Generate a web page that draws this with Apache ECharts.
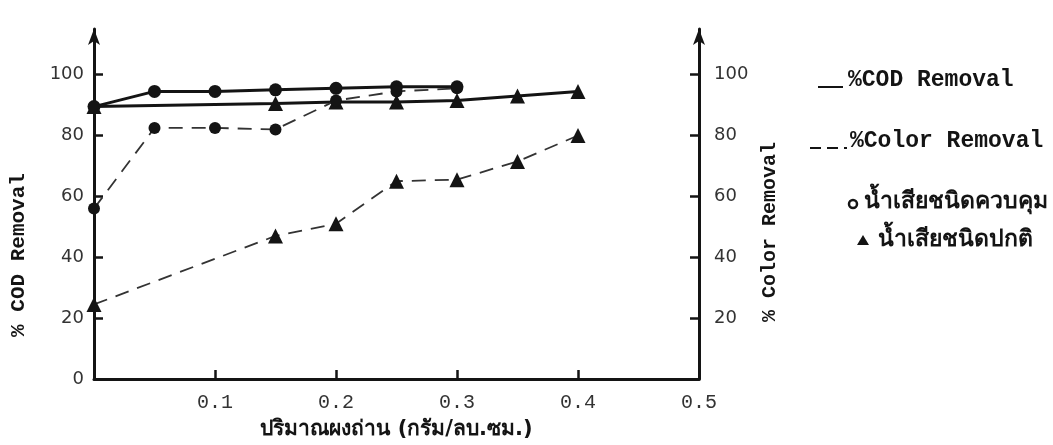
<!DOCTYPE html>
<html>
<head>
<meta charset="utf-8">
<script src="https://cdn.jsdelivr.net/npm/echarts@6/dist/echarts.min.js"></script>
<style>
  html, body { margin: 0; padding: 0; background: #fff; }
  #chart { width: 1053px; height: 445px; }
</style>
</head>
<body>
<div id="chart"></div>
<script>
// ปริมาณผงถ่าน (กรัม/ลบ.ซม.)
const xControl = [0, 0.05, 0.1, 0.15, 0.2, 0.25, 0.3];
const codControl = [89.5, 94.5, 94.5, 95, 95.5, 96, 96];
const colorControl = [56, 82.5, 82.5, 82, 91.5, 94.5, 95.5];

const xNormal = [0, 0.15, 0.2, 0.25, 0.3, 0.35, 0.4];
const codNormal = [89.5, 90.5, 91, 91, 91.5, 93, 94.5];
const colorNormal = [24.5, 47, 51, 65, 65.5, 71.5, 80];

const xTicks = [0.1, 0.2, 0.3, 0.4, 0.5];
const leftTicks = [0, 20, 40, 60, 80, 100];
const rightTicks = [20, 40, 60, 80, 100];

const ink = '#141414';
const mono = '"Liberation Mono", "DejaVu Sans Mono", monospace';

function pairs(xs, ys) {
  return xs.map((x, i) => [x, ys[i]]);
}

let myChart = echarts.init(document.getElementById('chart'));

const axisBase = {
  axisLine: { show: true, lineStyle: { color: ink, width: 3 } },
  axisTick: { show: true, inside: true, length: 9, lineStyle: { color: ink, width: 2.5 } },
  axisLabel: { color: '#333', fontSize: 18, fontFamily: '"DejaVu Sans", sans-serif' }
};

myChart.setOption({
  backgroundColor: '#fff',
  animation: false,
  grid: { left: 94, right: 354, top: 29, bottom: 62 },
  xAxis: {
    type: 'value',
    min: 0,
    max: 0.5,
    interval: 0.1,
    name: 'ปริมาณผงถ่าน (กรัม/ลบ.ซม.)',
    nameLocation: 'middle',
    nameGap: 40,
    nameTextStyle: { color: ink, fontSize: 21, fontWeight: 'bold', fontFamily: '"DejaVu Sans", sans-serif' },
    axisLine: axisBase.axisLine,
    axisTick: Object.assign({}, axisBase.axisTick, { customValues: [0.1, 0.2, 0.3, 0.4] }),
    splitLine: { show: false },
    axisLabel: Object.assign({}, axisBase.axisLabel, {
      customValues: xTicks,
      margin: 14,
      fontSize: 20,
      fontFamily: mono,
      formatter: v => v.toFixed(1)
    })
  },
  yAxis: [{
    type: 'value',
    min: 0,
    max: 115,
    position: 'left',
    axisLine: Object.assign({}, axisBase.axisLine, { symbol: ['none', 'arrow'], symbolSize: [9, 16] }),
    axisTick: Object.assign({}, axisBase.axisTick, { customValues: leftTicks }),
    splitLine: { show: false },
    axisLabel: Object.assign({}, axisBase.axisLabel, { customValues: leftTicks, margin: 10 })
  }, {
    type: 'value',
    min: 0,
    max: 115,
    position: 'right',
    axisLine: Object.assign({}, axisBase.axisLine, { symbol: ['none', 'arrow'], symbolSize: [9, 16] }),
    axisTick: Object.assign({}, axisBase.axisTick, { customValues: rightTicks }),
    splitLine: { show: false },
    axisLabel: Object.assign({}, axisBase.axisLabel, { customValues: rightTicks, margin: 15 })
  }],
  series: [{
    name: '%COD Removal - ควบคุม',
    type: 'line',
    data: pairs(xControl, codControl),
    symbol: 'circle',
    symbolSize: 13,
    itemStyle: { color: ink },
    lineStyle: { color: ink, width: 3 }
  }, {
    name: '%COD Removal - ปกติ',
    type: 'line',
    data: pairs(xNormal, codNormal),
    symbol: 'triangle',
    symbolSize: 15,
    itemStyle: { color: ink },
    lineStyle: { color: ink, width: 3 }
  }, {
    name: '%Color Removal - ควบคุม',
    type: 'line',
    data: pairs(xControl, colorControl),
    symbol: 'circle',
    symbolSize: 12,
    itemStyle: { color: ink },
    lineStyle: { color: '#333', width: 1.8, type: [14, 9] }
  }, {
    name: '%Color Removal - ปกติ',
    type: 'line',
    data: pairs(xNormal, colorNormal),
    symbol: 'triangle',
    symbolSize: 15,
    itemStyle: { color: ink },
    lineStyle: { color: '#333', width: 1.8, type: [14, 9] }
  }],
  graphic: [
    // axis titles
    { type: 'text', x: 19, y: 255, rotation: Math.PI / 2, style: {
      text: '% COD Removal', fill: ink, font: 'bold 21px ' + mono, align: 'center', verticalAlign: 'middle' } },
    { type: 'text', x: 770, y: 232, rotation: Math.PI / 2, style: {
      text: '% Color Removal', fill: ink, font: 'bold 20px ' + mono, align: 'center', verticalAlign: 'middle' } },
    // legend
    { type: 'line', shape: { x1: 818, y1: 87, x2: 843, y2: 87 }, style: { stroke: ink, lineWidth: 2 } },
    { type: 'text', x: 848, y: 80, style: { text: '%COD Removal', fill: ink, font: 'bold 23px ' + mono, verticalAlign: 'middle' } },
    { type: 'line', shape: { x1: 810, y1: 148, x2: 847, y2: 148 }, style: { stroke: ink, lineWidth: 2, lineDash: [11, 6] } },
    { type: 'text', x: 850, y: 141, style: { text: '%Color Removal', fill: ink, font: 'bold 23px ' + mono, verticalAlign: 'middle' } },
    { type: 'circle', shape: { cx: 853, cy: 204, r: 4 }, style: { fill: 'none', stroke: ink, lineWidth: 2.5 } },
    { type: 'text', x: 864, y: 202, style: { text: 'น้ำเสียชนิดควบคุม', fill: ink, font: 'bold 23px "DejaVu Sans", sans-serif', verticalAlign: 'middle' } },
    { type: 'polygon', shape: { points: [[863, 235], [857, 245], [869, 245]] }, style: { fill: ink } },
    { type: 'text', x: 878, y: 240, style: { text: 'น้ำเสียชนิดปกติ', fill: ink, font: 'bold 23px "DejaVu Sans", sans-serif', verticalAlign: 'middle' } }
  ]
});
</script>
</body>
</html>
